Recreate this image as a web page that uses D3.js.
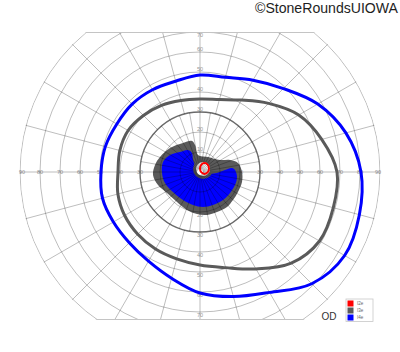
<!DOCTYPE html>
<html><head><meta charset="utf-8">
<script src="https://cdn.jsdelivr.net/npm/d3@7/dist/d3.min.js"></script>
<style>html,body{margin:0;padding:0;background:#fff;}svg{display:block;}</style>
</head><body>
<script>
// ---- data ----
const meridians = [0,15,30,45,60,75,90,105,120,135,150,165,180,195,210,225,240,255,270,285,300,315,330,345];
const i4eEcc = [80.5,75.5,68,59,53,49,48.5,47,47.5,48,48,49,49.5,50.5,50,50,51.5,55,60.5,64.5,69.5,79,83.5,82.5];
const i3eEcc = [68.5,63,57,48.5,41.5,37.5,36.5,37,38.5,40,41.5,41.5,41,42.5,43.5,44,44.5,45,46.5,49.5,56,64.5,69,69];
// relative scotoma outlines (degrees, x right / y up)
const grayScotomaX = [-23.5,-22.5,-20,-15,-8.5,-4,-2.5,-1,4,10,15,19,21,21,19,16.5,13.5,8.5,3.5,-1.5,-6.5,-11.5,-16.5,-21];
const grayScotomaY = [-1.5,3.5,7.5,12,14.5,15.5,13.5,8.5,7.5,6,6,4.5,0,-5,-10,-14,-17.5,-20,-21.5,-21,-19,-15,-10.5,-6.5];
const blueScotomaX = [-18.5,-15,-10,-6,-4,-3.5,-2,0,5,8.5,12.5,16,17.5,18.5,17.5,15,11.5,6.5,1.5,-3.5,-8.5,-13.5,-17.5,-19];
const blueScotomaY = [5,8.5,10,11,9.5,6,2,-2,-1,-0.5,1,2,1,-2.5,-6.5,-10.5,-14,-16.5,-17.5,-16.5,-14,-10,-5.5,-0.5];
// central island seen with I2e
const i2eX = [4.5,3.9,2.25,0.6,0,0.6,2.25,3.9];
const i2eY = [1.75,3.6,4.5,3.6,1.75,-0.1,-1.0,-0.1];
const islandCenter = [1.5,1.5];
const islandRadius = 3.5, islandRim = 5;
const ringValues = [10,20,30,40,50,60,70,80,90];
const verticalLabelValues = [10,20,30,40,50,60,70];
const outerMeridians = d3.range(0,360,15);
const innerMeridians = d3.range(0,360,10);
const legendLabels = ["I2e","I3e","I4e"];
const legendColors = ["#ff0000","#5a5a5a","#0000ff"];

// ---- setup ----
const W=400,H=352;
const svg = d3.select("body").append("svg").attr("width",W).attr("height",H);
const x = d3.scaleLinear([-90,90],[20,380]);
const y = d3.scaleLinear([-90,90],[352,-8]);
const rad = d3.scaleLinear([0,90],[0,180]);
const cx = x(0), cy = y(0);
const topClip = 70, botClip = -74;
const toRad = a => a*Math.PI/180;
const polar = (a,e) => [x(e*Math.cos(toRad(a))), y(e*Math.sin(toRad(a)))];

const defs = svg.append("defs");
defs.append("clipPath").attr("id","cr").append("rect")
  .attr("x",0).attr("y",y(topClip)).attr("width",W).attr("height",y(botClip)-y(topClip));
defs.append("clipPath").attr("id","cc").append("circle")
  .attr("cx",cx).attr("cy",cy).attr("r",rad(90)+0.5);

// axis labels (under the scotomas)
const lab = svg.append("g").attr("font-family","Liberation Sans, Arial, sans-serif")
  .attr("font-size",5.5).attr("fill","#9a9a9a").attr("text-anchor","middle");
ringValues.forEach(v=>{
  const sh = v===90?2:0;
  lab.append("text").attr("x",x(-v)+sh).attr("y",cy+2).text(v);
  lab.append("text").attr("x",x(v)-sh).attr("y",cy+2).text(v);
});
verticalLabelValues.forEach(v=>{
  lab.append("text").attr("x",cx).attr("y",Math.max(y(v)-3,y(topClip)+3)+2).text(v);
  lab.append("text").attr("x",cx).attr("y",y(-v)+3+2).text(v);
});

// scotomas
const closed = d3.line().curve(d3.curveCatmullRomClosed.alpha(0.5));
const scot = svg.append("g");
scot.append("path").attr("d",closed(grayScotomaX.map((d,i)=>[x(d),y(grayScotomaY[i])])))
  .attr("fill","#5a5a5a");
scot.append("path").attr("d",closed(blueScotomaX.map((d,i)=>[x(d),y(blueScotomaY[i])])))
  .attr("fill","#0000ff");
scot.append("circle").attr("cx",x(islandCenter[0])).attr("cy",y(islandCenter[1]))
  .attr("r",rad(islandRim)).attr("fill","#5a5a5a");
scot.append("circle").attr("cx",x(islandCenter[0])).attr("cy",y(islandCenter[1]))
  .attr("r",rad(islandRadius)).attr("fill","#fff");

const outer = svg.append("g").attr("clip-path","url(#cc)");
const plot = outer.append("g").attr("clip-path","url(#cr)");
const gridCol = "rgba(0,0,0,0.26)";

// grid
const grid = plot.append("g").attr("fill","none");
ringValues.forEach(v=>{
  grid.append("circle").attr("cx",cx).attr("cy",cy).attr("r",rad(v))
    .attr("stroke", v===30 ? "#6a6a6a" : gridCol).attr("stroke-width", v===30?1.4:1);
});
outerMeridians.forEach(a=>{
  const p0 = polar(a,30), p1 = polar(a,92);
  grid.append("line").attr("x1",p0[0]).attr("y1",p0[1]).attr("x2",p1[0]).attr("y2",p1[1])
    .attr("stroke",gridCol);
});
innerMeridians.forEach(a=>{
  const p0 = polar(a,1.5), p1 = polar(a,30);
  grid.append("line").attr("x1",p0[0]).attr("y1",p0[1]).attr("x2",p1[0]).attr("y2",p1[1])
    .attr("stroke",gridCol);
});
// clip chords
outer.append("line").attr("x1",0).attr("x2",W).attr("y1",y(topClip)+0.5).attr("y2",y(topClip)+0.5)
  .attr("stroke","#c4c4c4");
outer.append("line").attr("x1",0).attr("x2",W).attr("y1",y(botClip)-0.5).attr("y2",y(botClip)-0.5)
  .attr("stroke","#c4c4c4");

// isopters
const iso = d3.line().curve(d3.curveCatmullRomClosed.alpha(0.5));
plot.append("path").attr("d",iso(meridians.map((a,i)=>polar(a,i3eEcc[i]))))
  .attr("fill","none").attr("stroke","#5a5a5a").attr("stroke-width",3);
plot.append("path").attr("d",iso(meridians.map((a,i)=>polar(a,i4eEcc[i]))))
  .attr("fill","none").attr("stroke","#0000ff").attr("stroke-width",3);
plot.append("path").attr("d",closed(i2eX.map((d,i)=>[x(d),y(i2eY[i])])))
  .attr("fill","none").attr("stroke","#ff0000").attr("stroke-width",2);

// legend
const lg = svg.append("g").attr("transform","translate(346,299)");
lg.append("rect").attr("x",0).attr("y",0).attr("width",27).attr("height",22.5)
  .attr("fill","#fff").attr("stroke","#c8c8c8").attr("stroke-width",0.8);
legendLabels.forEach((t,i)=>{
  lg.append("rect").attr("x",1.5).attr("y",1.5+i*7).attr("width",6).attr("height",6).attr("fill",legendColors[i]);
  lg.append("text").attr("x",11).attr("y",6+i*7).attr("font-size",4.5)
    .attr("font-family","Liberation Sans, Arial, sans-serif").attr("fill","#666").text(t);
});
svg.append("text").attr("x",321.5).attr("y",320).attr("font-size",10)
  .attr("font-family","Liberation Sans, Arial, sans-serif").attr("fill","#333").text("OD");
svg.append("text").attr("x",398).attr("y",13).attr("text-anchor","end").attr("font-size",14)
  .attr("font-family","Liberation Sans, Arial, sans-serif").attr("fill","#1e1e1e")
  .attr("textLength",143).attr("lengthAdjust","spacingAndGlyphs").text("©StoneRoundsUIOWA");
</script>
</body></html>
